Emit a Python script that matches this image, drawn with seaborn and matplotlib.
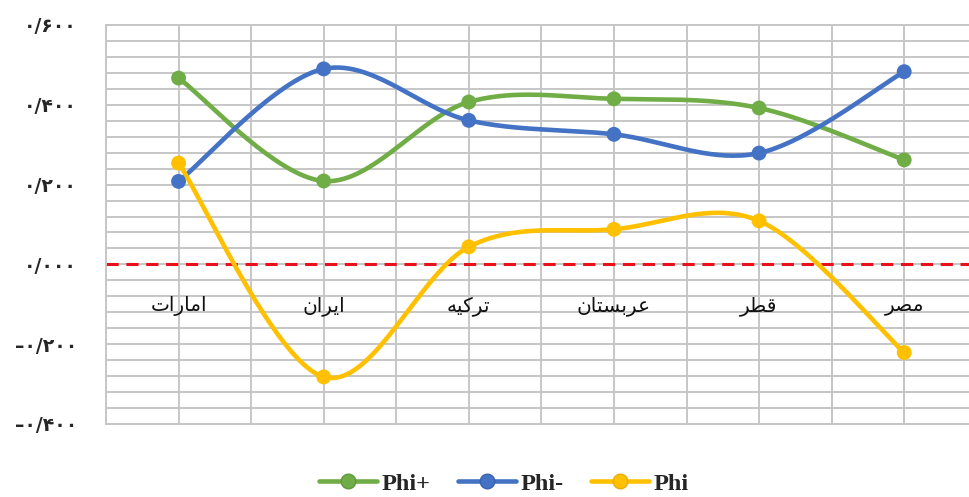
import numpy as np
import pandas as pd
import matplotlib.pyplot as plt
import seaborn as sns
from matplotlib.ticker import MultipleLocator, FixedLocator
from matplotlib.lines import Line2D

# کشورها: امارات، ایران، ترکیه، عربستان، قطر، مصر
# (presentation forms in visual order, matplotlib does no Arabic shaping)
countries = [
    "\uFE95\uFE8D\uFEAD\uFE8E\uFEE3\uFE8D",        # امارات
    "\uFEE5\uFE8D\uFEAE\uFEF3\uFE8D",              # ایران
    "\uFEEA\uFEF4\uFEDB\uFEAE\uFE97",              # ترکیه
    "\uFEE5\uFE8E\uFE98\uFEB4\uFE91\uFEAE\uFECB",  # عربستان
    "\uFEAE\uFEC4\uFED7",                          # قطر
    "\uFEAE\uFEBC\uFEE3",                          # مصر
]
phi_plus = [0.467, 0.209, 0.407, 0.415, 0.392, 0.262]
phi_minus = [0.208, 0.490, 0.361, 0.326, 0.279, 0.483]
phi = [0.254, -0.282, 0.044, 0.088, 0.109, -0.221]

series_names = ["Phi+", "Phi-", "Phi"]
colors = ["#70AD47", "#4472C4", "#FFC000"]
edge_colors = ["#5E9A3A", "#3A62AE", "#E8AE00"]

ytick_vals = [0.6, 0.4, 0.2, 0.0, -0.2, -0.4]
ytick_labels = ["۰/۶۰۰", "۰/۴۰۰", "۰/۲۰۰", "۰/۰۰۰", "–۰/۲۰۰", "–۰/۴۰۰"]

df = pd.DataFrame({"x": np.arange(len(countries)),
                   "Phi+": phi_plus, "Phi-": phi_minus, "Phi": phi})
long = df.melt(id_vars="x", var_name="series", value_name="val")


def smooth(xs, ys, n=40):
    # Excel-style smoothed line (Catmull-Rom as cubic Bezier)
    P = np.column_stack([xs, ys]).astype(float)
    P = np.vstack([P[0], P, P[-1]])
    out = []
    t = np.linspace(0, 1, n)[:, None]
    for i in range(1, len(P) - 2):
        p0, p1, p2, p3 = P[i - 1], P[i], P[i + 1], P[i + 2]
        b1 = p1 + (p2 - p0) / 6
        b2 = p2 - (p3 - p1) / 6
        seg = ((1 - t) ** 3) * p1 + 3 * ((1 - t) ** 2) * t * b1 + 3 * (1 - t) * t ** 2 * b2 + t ** 3 * p2
        out.append(seg)
    c = np.vstack(out)
    return c[:, 0], c[:, 1]


sns.set_theme(style="white")
plt.rcParams['font.family'] = ['DejaVu Sans']

fig = plt.figure(figsize=(9.69, 4.97), dpi=100)
ax = fig.add_axes([0.1094, 0.1469, 0.8986, 0.8028])

ax.set_xlim(-0.5, 5.5)
ax.set_ylim(-0.4, 0.6)

# grid
ax.yaxis.set_major_locator(FixedLocator(ytick_vals))
ax.yaxis.set_minor_locator(MultipleLocator(0.04))
ax.xaxis.set_major_locator(MultipleLocator(0.5))
ax.set_xticklabels([])
ax.grid(which="both", axis="y", color="#C6C6C6", lw=1.4)
ax.grid(which="major", axis="x", color="#C6C6C6", lw=1.4)
ax.set_axisbelow(True)
for s in ax.spines.values():
    s.set_color("#C6C6C6")
    s.set_linewidth(1.4)
ax.tick_params(axis="both", which="both", length=0)
ax.tick_params(axis="y", pad=21)
ax.set_yticklabels(ytick_labels, fontsize=13.5, fontweight="bold", family=["DejaVu Sans"])

# zero line
ax.axhline(0, color="#E8101A", lw=2.2, ls=(0, (4, 2.5)), zorder=2)

# smoothed lines + markers
for name, col in zip(series_names, colors):
    sx, sy = smooth(df["x"], df[name])
    ax.plot(sx, sy, color=col, lw=3.3, zorder=3, solid_capstyle="round")

sns.scatterplot(data=long, x="x", y="val", hue="series", palette=dict(zip(series_names, colors)),
                s=115, edgecolor=None, linewidth=0, legend=False, zorder=4, ax=ax)
ax.set_xlabel("")
ax.set_ylabel("")

# category labels sit inside the plot under the zero line
for i, lab in enumerate(countries):
    ax.text(i, -0.104, lab, ha="center", va="center", fontsize=14.5, color="#111111",
            family=["DejaVu Sans"], zorder=5)

handles = [Line2D([0], [0], color=c, lw=3.3, marker="o", markersize=10.5,
                  markerfacecolor=c, markeredgecolor=e) for c, e in zip(colors, edge_colors)]
fig.legend(handles, series_names, loc="center", bbox_to_anchor=(0.52, 0.027), ncol=3,
           frameon=False, handlelength=2.4, handletextpad=0.2, columnspacing=1.1,
           prop={"family": "Liberation Serif", "weight": "bold", "size": 17.5})

fig.savefig("out.png", dpi=100)
